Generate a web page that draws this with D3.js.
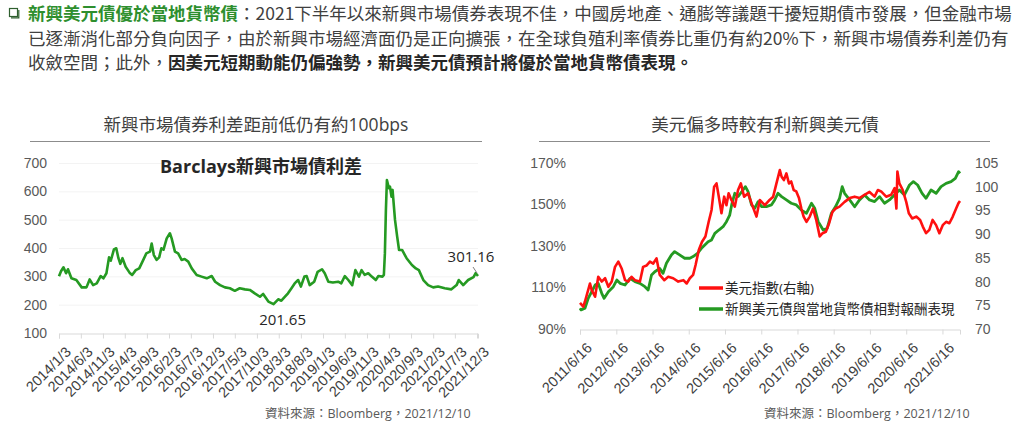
<!DOCTYPE html>
<html>
<head>
<meta charset="utf-8">
<script src="https://cdn.jsdelivr.net/npm/d3@7"></script>
<style>
  html, body { margin: 0; padding: 0; background: #fff; }
  svg { display: block; font-family: "Open Sans", "Noto Sans CJK TC", sans-serif; }
</style>
</head>
<body>
<svg id="chart" width="1024" height="430"></svg>
<script>
// ---- left chart: Barclays EM spread (weekly) ----
var spreadDates = [
  '2014-01-03', '2014-01-17', '2014-02-03', '2014-02-21', '2014-03-06', '2014-03-30', '2014-05-03',
  '2014-06-09', '2014-07-12', '2014-08-03', '2014-08-27', '2014-09-21', '2014-10-18', '2014-11-06',
  '2014-11-27', '2014-12-15', '2014-12-27', '2015-01-18', '2015-02-03', '2015-02-18', '2015-03-03',
  '2015-03-18', '2015-04-09', '2015-05-06', '2015-05-24', '2015-06-18', '2015-07-12', '2015-08-09',
  '2015-08-30', '2015-09-24', '2015-10-06', '2015-10-21', '2015-11-09', '2015-11-27', '2015-12-12',
  '2015-12-27', '2016-01-18', '2016-02-09', '2016-02-21', '2016-03-15', '2016-04-06', '2016-04-30',
  '2016-05-21', '2016-06-15', '2016-07-09', '2016-08-12', '2016-09-15', '2016-10-21', '2016-11-24',
  '2016-12-18', '2017-01-21', '2017-02-24', '2017-03-30', '2017-05-03', '2017-06-06', '2017-07-12',
  '2017-08-15', '2017-09-18', '2017-10-24', '2017-11-15', '2017-12-21', '2018-01-26', '2018-02-27',
  '2018-03-21', '2018-04-15', '2018-05-06', '2018-05-30', '2018-06-21', '2018-07-15', '2018-08-03',
  '2018-08-27', '2018-09-12', '2018-10-03', '2018-11-03', '2018-11-27', '2018-12-27', '2019-01-15',
  '2019-02-09', '2019-03-12', '2019-04-18', '2019-05-09', '2019-06-03', '2019-06-27', '2019-07-24',
  '2019-08-15', '2019-09-09', '2019-09-27', '2019-10-18', '2019-11-12', '2019-12-06', '2020-01-03',
  '2020-01-21', '2020-02-18', '2020-02-28', '2020-03-06', '2020-03-13', '2020-03-20', '2020-04-03',
  '2020-04-10', '2020-04-21', '2020-04-28', '2020-05-15', '2020-05-30', '2020-06-12', '2020-07-03',
  '2020-08-03', '2020-09-09', '2020-10-06', '2020-10-27', '2020-11-27', '2020-12-30', '2021-02-03',
  '2021-03-09', '2021-04-24', '2021-06-09', '2021-07-15', '2021-07-30', '2021-08-30', '2021-10-03',
  '2021-11-09', '2021-11-24', '2021-12-10'
];
var spreadValues = [
  300, 318, 332, 311, 325, 293, 287,
  261, 261, 289, 269, 275, 301, 293,
  311, 367, 355, 395, 399, 364, 344,
  364, 334, 313, 305, 322, 328, 358,
  381, 387, 416, 375, 358, 367, 399,
  394, 434, 452, 434, 387, 381, 358,
  361, 352, 328, 305, 299, 293, 301,
  281, 269, 261, 258, 249, 258, 254,
  252, 240, 228, 238, 211, 201.65, 219,
  214, 228, 240, 258, 275, 287, 264,
  299, 301, 269, 281, 316, 325, 311,
  281, 278, 281, 275, 301, 287, 269,
  322, 299, 322, 305, 311, 299, 287,
  301, 299, 305, 381, 534, 640, 611,
  617, 581, 605, 499, 440, 393, 393,
  364, 340, 328, 322, 287, 269, 261,
  264, 258, 254, 269, 287, 269, 287,
  297, 311, 301.16
];
var spreadTicks = [
  '2014/1/3', '2014/6/3', '2014/11/3', '2015/4/3', '2015/9/3', '2016/2/3', '2016/7/3',
  '2016/12/3', '2017/5/3', '2017/10/3', '2018/3/3', '2018/8/3', '2019/1/3', '2019/6/3',
  '2019/11/3', '2020/4/3', '2020/9/3', '2021/2/3', '2021/7/3', '2021/12/3'
];
var spreadYTicks = [100, 200, 300, 400, 500, 600, 700];

// ---- right chart: DXY (right axis) vs EM USD / local bond relative return (left axis) ----
var dxyDates = [
  '2011-06-16', '2011-07-19', '2011-08-05', '2011-09-25', '2011-10-12', '2011-11-15', '2011-12-17',
  '2012-01-21', '2012-02-24', '2012-03-28', '2012-05-01', '2012-06-03', '2012-07-06', '2012-08-10',
  '2012-09-12', '2012-10-15', '2012-11-17', '2012-12-21', '2013-02-09', '2013-03-13', '2013-04-18',
  '2013-05-21', '2013-06-23', '2013-07-26', '2013-08-28', '2013-10-12', '2013-11-21', '2014-01-10',
  '2014-03-02', '2014-04-23', '2014-05-26', '2014-06-27', '2014-07-30', '2014-08-24', '2014-09-26',
  '2014-10-28', '2014-12-01', '2015-01-03', '2015-02-01', '2015-02-27', '2015-03-23', '2015-04-15',
  '2015-05-12', '2015-06-08', '2015-07-01', '2015-07-23', '2015-08-20', '2015-09-23', '2015-10-26',
  '2015-11-23', '2015-12-26', '2016-02-04', '2016-03-10', '2016-04-29', '2016-06-01', '2016-07-22',
  '2016-09-08', '2016-10-14', '2016-11-16', '2016-12-20', '2017-01-07', '2017-01-30', '2017-02-24',
  '2017-03-22', '2017-04-14', '2017-05-09', '2017-06-04', '2017-07-01', '2017-07-25', '2017-08-17',
  '2017-09-15', '2017-10-18', '2017-11-20', '2017-12-23', '2018-01-26', '2018-02-24', '2018-03-29',
  '2018-05-01', '2018-06-03', '2018-07-05', '2018-08-14', '2018-10-04', '2018-11-24', '2019-01-13',
  '2019-03-03', '2019-04-23', '2019-06-12', '2019-08-02', '2019-09-04', '2019-10-07', '2019-11-27',
  '2020-01-16', '2020-02-20', '2020-03-09', '2020-03-19', '2020-04-08', '2020-05-12', '2020-06-16',
  '2020-07-12', '2020-08-16', '2020-09-25', '2020-11-03', '2020-11-30', '2021-01-02', '2021-02-04',
  '2021-03-09', '2021-04-13', '2021-05-16', '2021-06-19', '2021-07-23', '2021-08-25', '2021-09-28',
  '2021-11-01', '2021-11-24', '2021-12-10'
];
var dxyValues = [
  75.5, 74.7, 75.8, 79.6, 78.2, 76.8, 81.0,
  80.0, 80.7, 78.9, 80.0, 83.1, 84.2, 82.7,
  80.3, 80.0, 81.0, 80.3, 80.0, 83.1, 83.4,
  84.2, 83.8, 84.9, 81.4, 80.3, 81.0, 80.7,
  80.0, 80.3, 79.6, 80.7, 81.4, 83.5, 86.7,
  88.4, 89.5, 92.6, 95.1, 100.0, 100.7, 97.9,
  94.4, 97.9, 96.1, 98.6, 97.2, 95.8, 99.3,
  100.7, 97.9, 98.6, 96.5, 93.7, 97.2, 96.1,
  97.2, 97.9, 100.7, 103.5, 102.1, 101.4, 102.8,
  100.7, 101.1, 99.3, 99.0, 97.6, 95.4, 93.7,
  92.6, 93.7, 95.4, 92.9, 89.5, 90.2, 90.5,
  92.3, 94.7, 95.4, 95.8, 96.8, 97.6, 97.9,
  97.6, 98.3, 98.9, 97.9, 99.3, 99.0, 97.9,
  98.3, 99.7, 95.4, 103.2, 100.7, 99.3, 96.8,
  94.4, 93.3, 93.7, 93.0, 91.6, 90.2, 90.9,
  93.0, 91.9, 90.2, 91.9, 92.6, 92.3, 93.7,
  95.4, 96.5, 97.0
];
var relDates = [
  '2011-06-16', '2011-06-27', '2011-08-05', '2011-09-07', '2011-10-12', '2011-11-15', '2011-12-17',
  '2012-01-21', '2012-02-14', '2012-03-28', '2012-05-17', '2012-06-21', '2012-07-24', '2012-09-12',
  '2012-11-01', '2012-12-21', '2013-02-09', '2013-03-31', '2013-05-03', '2013-06-06', '2013-07-09',
  '2013-08-28', '2013-09-30', '2013-11-03', '2013-12-23', '2014-01-25', '2014-03-16', '2014-05-06',
  '2014-06-27', '2014-07-30', '2014-09-12', '2014-10-22', '2014-11-25', '2014-12-28', '2015-02-01',
  '2015-03-06', '2015-04-15', '2015-05-28', '2015-07-01', '2015-08-03', '2015-08-26', '2015-09-23',
  '2015-10-26', '2015-12-15', '2016-01-08', '2016-02-04', '2016-03-10', '2016-04-12', '2016-05-15',
  '2016-06-18', '2016-08-07', '2016-09-26', '2016-10-29', '2016-12-01', '2017-01-07', '2017-02-24',
  '2017-04-14', '2017-06-04', '2017-07-25', '2017-09-15', '2017-11-04', '2017-12-07', '2018-01-11',
  '2018-03-02', '2018-04-11', '2018-05-24', '2018-07-05', '2018-08-14', '2018-09-10', '2018-10-04',
  '2018-11-24', '2019-01-13', '2019-03-03', '2019-04-23', '2019-06-12', '2019-08-02', '2019-09-21',
  '2019-11-10', '2019-12-30', '2020-02-18', '2020-04-08', '2020-05-29', '2020-07-19', '2020-08-27',
  '2020-10-09', '2020-11-23', '2021-01-02', '2021-02-21', '2021-04-13', '2021-06-02', '2021-07-23',
  '2021-09-11', '2021-10-24', '2021-11-26', '2021-12-10'
];
var relValues = [
  100.0, 99.2, 100.0, 104.8, 108.0, 111.2, 112.0,
  107.2, 104.8, 108.0, 110.4, 113.6, 112.0, 111.2,
  114.4, 112.8, 112.0, 110.4, 108.8, 116.0, 117.6,
  119.2, 116.8, 121.7, 125.7, 127.3, 125.7, 124.1,
  124.1, 124.9, 126.5, 128.9, 130.5, 132.1, 132.9,
  136.1, 137.7, 139.3, 141.7, 144.9, 150.6, 155.4,
  153.8, 157.0, 158.6, 156.2, 149.8, 148.2, 151.4,
  149.0, 149.0, 149.8, 152.2, 155.4, 153.8, 152.2,
  150.6, 149.8, 147.3, 145.8, 150.6, 148.2, 141.7,
  137.7, 138.5, 145.8, 149.0, 153.0, 158.6, 155.4,
  152.2, 148.9, 152.2, 154.6, 152.2, 151.4, 153.8,
  150.6, 152.2, 154.6, 157.0, 154.6, 159.4, 161.0,
  159.4, 155.4, 153.0, 157.0, 155.4, 158.6, 160.2,
  161.0, 162.6, 165.8, 165.0
];
var relTicks = [
  '2011/6/16', '2012/6/16', '2013/6/16', '2014/6/16', '2015/6/16', '2016/6/16',
  '2017/6/16', '2018/6/16', '2019/6/16', '2020/6/16', '2021/6/16'
];
var relYTicks = [90, 110, 130, 150, 170];
var dxyYTicks = [70, 75, 80, 85, 90, 95, 100, 105];

var parseDay = d3.timeParse('%Y-%m-%d'),
    parseTick = d3.timeParse('%Y/%m/%d'),
    svg = d3.select('#chart'),
    textDark = '#262626',
    textMid = '#404040',
    textAxis = '#595959',
    axisGrey = '#d9d9d9',
    lineGreen = '#259a22',
    lineRed = '#ff1010';

var zip = function (dates, values) {
    return dates.map(function (d, i) { return {date: parseDay(d), value: values[i]}; });
};

// ---- paragraph on top ----
svg.append('rect').attr('x', 9.5).attr('y', 8.5).attr('width', 8).attr('height', 8)
    .attr('fill', '#fff').attr('stroke', '#2f5f2f').attr('stroke-width', 1.2);
svg.append('path').attr('d', 'M11 17.8H18.8V10').attr('fill', 'none')
    .attr('stroke', '#2f5f2f').attr('stroke-width', 1.2);

var para = svg.append('g').attr('font-family', '"Noto Sans CJK TC", sans-serif')
    .attr('font-size', 17.5).attr('fill', textMid);
var l1 = para.append('text').attr('x', 28).attr('y', 20);
l1.append('tspan').attr('fill', '#2e8f2e').attr('font-weight', 700).text('新興美元債優於當地貨幣債');
l1.append('tspan').text('：2021下半年以來新興市場債券表現不佳，中國房地產、通膨等議題干擾短期債市發展，但金融市場');
para.append('text').attr('x', 28).attr('y', 45)
    .text('已逐漸消化部分負向因子，由於新興市場經濟面仍是正向擴張，在全球負殖利率債券比重仍有約20%下，新興市場債券利差仍有');
var l3 = para.append('text').attr('x', 28).attr('y', 69);
l3.append('tspan').text('收斂空間；此外，');
l3.append('tspan').attr('font-weight', 700).attr('fill', textDark).text('因美元短期動能仍偏強勢，新興美元債預計將優於當地貨幣債表現。');

// ---- chart heading helper ----
var heading = function (cx, x0, x1, label) {
    svg.append('text').attr('x', cx).attr('y', 131).attr('text-anchor', 'middle')
        .attr('font-size', 17.5).attr('fill', textMid).text(label);
    svg.append('line').attr('x1', x0).attr('x2', x1).attr('y1', 141.5).attr('y2', 141.5)
        .attr('stroke', '#8c8c8c').attr('stroke-width', 1);
};

var dateAxis = function (g, scale, ticks, y) {
    var axis = d3.axisBottom(scale)
        .tickValues(ticks.map(function (t) { return parseTick(t); }))
        .tickFormat(function (d, i) { return ticks[i]; })
        .tickSize(5).tickPadding(4);
    g.attr('transform', 'translate(0,' + y + ')').call(axis);
    g.select('.domain').attr('stroke', axisGrey);
    g.selectAll('.tick line').attr('stroke', axisGrey);
    g.selectAll('.tick text')
        .attr('font-size', 14.5).attr('fill', textMid)
        .attr('text-anchor', 'end')
        .attr('dy', 0)
        .attr('transform', 'translate(6,13) rotate(-45)');
};

// ---- left chart ----
heading(256, 30, 482, '新興市場債券利差距前低仍有約100bps');

var spread = zip(spreadDates, spreadValues),
    xL = d3.scaleTime().domain([parseDay('2014-01-03'), parseDay('2021-12-10')]).range([59, 478]),
    yL = d3.scaleLinear().domain([100, 700]).range([333, 163]);

var gL = svg.append('g');
gL.selectAll('.grid').data(spreadYTicks.slice(1)).enter().append('line')
    .attr('x1', 59).attr('x2', 478)
    .attr('y1', function (d) { return yL(d) + 0.5; }).attr('y2', function (d) { return yL(d) + 0.5; })
    .attr('stroke', '#f3f3f3');

var yAxisL = gL.append('g').attr('transform', 'translate(47,0)')
    .call(d3.axisLeft(yL).tickValues(spreadYTicks).tickSize(0).tickPadding(0));
yAxisL.select('.domain').remove();
yAxisL.selectAll('text').attr('font-size', 14).attr('fill', textAxis);

dateAxis(gL.append('g'), xL, spreadTicks, 333.5);

svg.append('text').attr('x', 261).attr('y', 173).attr('text-anchor', 'middle')
    .attr('font-size', 18).attr('font-weight', 700).attr('fill', textDark)
    .text('Barclays新興市場債利差');

gL.append('path').datum(spread)
    .attr('fill', 'none').attr('stroke', lineGreen).attr('stroke-width', 2.6)
    .attr('stroke-linejoin', 'round')
    .attr('d', d3.line().x(function (d) { return xL(d.date); }).y(function (d) { return yL(d.value); }));

var low = spread[d3.minIndex(spread, function (d) { return d.value; })],
    last = spread[spread.length - 1];
gL.append('text').attr('x', xL(low.date) + 9).attr('y', yL(low.value) + 21)
    .attr('text-anchor', 'middle').attr('font-size', 15).attr('fill', textDark)
    .text(d3.format('.2f')(low.value));
gL.append('text').attr('x', xL(last.date) - 7).attr('y', yL(last.value) - 14)
    .attr('text-anchor', 'middle').attr('font-size', 15).attr('fill', textDark)
    .text(d3.format('.2f')(last.value));
gL.append('line')
    .attr('x1', xL(last.date) - 5).attr('y1', yL(last.value) - 9)
    .attr('x2', xL(last.date) - 1).attr('y2', yL(last.value) - 3)
    .attr('stroke', '#7f7f7f').attr('stroke-width', 1);

svg.append('text').attr('x', 265).attr('y', 418).attr('font-size', 12.5).attr('fill', textAxis)
    .text('資料來源：Bloomberg，2021/12/10');

// ---- right chart ----
heading(765, 539, 990, '美元偏多時較有利新興美元債');

var dxy = zip(dxyDates, dxyValues),
    rel = zip(relDates, relValues),
    xR = d3.scaleTime().domain([parseDay('2011-06-16'), parseDay('2021-12-10')]).range([580, 960]),
    yRL = d3.scaleLinear().domain([90, 170]).range([329, 163]),
    yRR = d3.scaleLinear().domain([70, 105]).range([329, 163]);

var gR = svg.append('g');
var yAxisRL = gR.append('g').attr('transform', 'translate(566,0)')
    .call(d3.axisLeft(yRL).tickValues(relYTicks).tickSize(0).tickPadding(0)
        .tickFormat(function (d) { return d + '%'; }));
yAxisRL.select('.domain').remove();
yAxisRL.selectAll('text').attr('font-size', 14).attr('fill', textAxis);

var yAxisRR = gR.append('g').attr('transform', 'translate(975,0)')
    .call(d3.axisRight(yRR).tickValues(dxyYTicks).tickSize(0).tickPadding(0));
yAxisRR.select('.domain').remove();
yAxisRR.selectAll('text').attr('font-size', 14).attr('fill', textAxis);

dateAxis(gR.append('g'), xR, relTicks, 329.5);

gR.append('path').datum(rel)
    .attr('fill', 'none').attr('stroke', lineGreen).attr('stroke-width', 2.8)
    .attr('stroke-linejoin', 'round')
    .attr('d', d3.line().x(function (d) { return xR(d.date); }).y(function (d) { return yRL(d.value); }));
gR.append('path').datum(dxy)
    .attr('fill', 'none').attr('stroke', lineRed).attr('stroke-width', 2.6)
    .attr('stroke-linejoin', 'round')
    .attr('d', d3.line().x(function (d) { return xR(d.date); }).y(function (d) { return yRR(d.value); }));

// legend
var legend = [
    {label: '美元指數(右軸)', color: lineRed},
    {label: '新興美元債與當地貨幣債相對報酬表現', color: lineGreen}
];
var lg = gR.selectAll('.legend').data(legend).enter().append('g')
    .attr('transform', function (d, i) { return 'translate(699,' + (288 + i * 21) + ')'; });
lg.append('line').attr('x1', 0).attr('x2', 24).attr('stroke-width', 3.5)
    .attr('stroke', function (d) { return d.color; });
lg.append('text').attr('x', 26).attr('y', 5).attr('font-size', 13.5).attr('fill', textDark)
    .text(function (d) { return d.label; });

svg.append('text').attr('x', 764).attr('y', 418).attr('font-size', 12.5).attr('fill', textAxis)
    .text('資料來源：Bloomberg，2021/12/10');
</script>
</body>
</html>
